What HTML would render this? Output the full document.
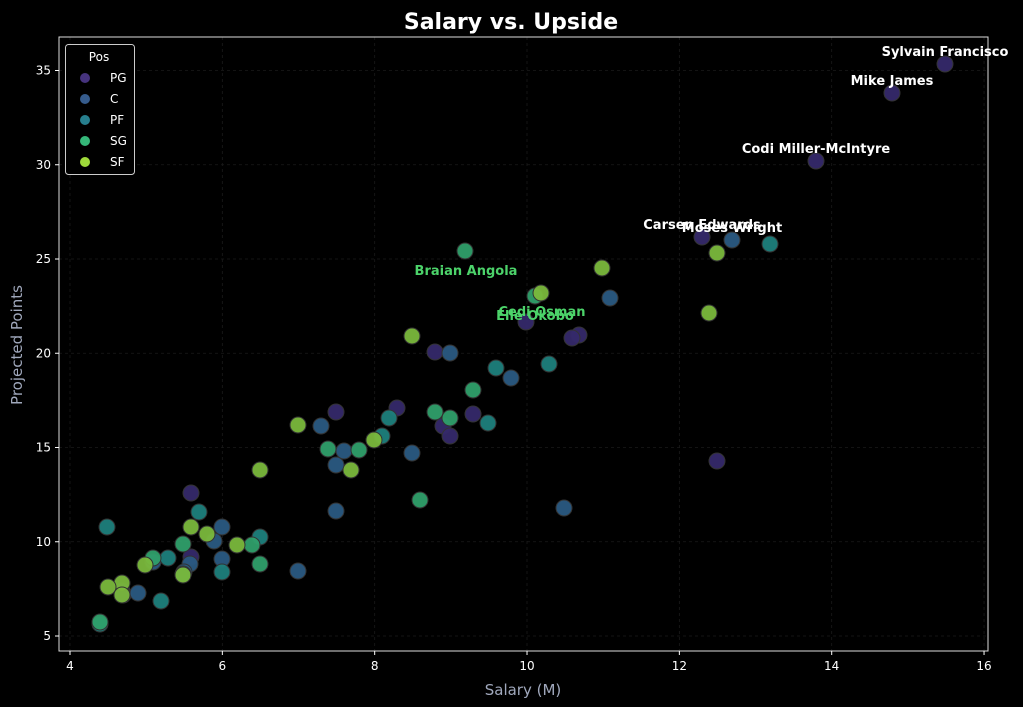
<!DOCTYPE html>
<html><head><meta charset="utf-8"><style>
body{margin:0;background:#000;}
svg{display:block;font-family:"DejaVu Sans","Liberation Sans",sans-serif;}
</style></head><body>
<svg id="s" width="1023" height="707" xmlns="http://www.w3.org/2000/svg">
<rect width="1023" height="707" fill="#000"/>
<g id="grid" stroke="#1a1a1a" stroke-width="0.8" stroke-dasharray="3,3"></g>
<g id="pts"></g>
<rect x="59" y="37" width="929" height="614" fill="none" stroke="#ddd" stroke-width="1"/>
<g id="ticks" fill="#fff" font-size="12"></g>
<text x="511" y="29" fill="#fff" font-size="22" font-weight="bold" text-anchor="middle">Salary vs. Upside</text>
<text x="523" y="695" fill="#a0a8bc" font-size="15" text-anchor="middle">Salary (M)</text>
<text x="22" y="345" fill="#a0a8bc" font-size="15" text-anchor="middle" transform="rotate(-90 22 345)">Projected Points</text>
<g font-size="13" font-weight="bold" text-anchor="middle">
<text x="945" y="56" fill="#fff">Sylvain Francisco</text>
<text x="892" y="85" fill="#fff">Mike James</text>
<text x="816" y="153" fill="#fff">Codi Miller-McIntyre</text>
<text x="702" y="229" fill="#fff">Carsen Edwards</text>
<text x="732" y="232" fill="#fff">Moses Wright</text>
<text x="466" y="275" fill="#4cd36a">Braian Angola</text>
<text x="542" y="316" fill="#4cd36a">Cedi Osman</text>
<text x="535" y="320" fill="#4cd36a">Elie Okobo</text>
</g>
<g>
<rect x="65.5" y="44.5" width="69" height="130" rx="3" fill="#000" stroke="#ccc" stroke-width="1"/>
<text x="99" y="61" fill="#fff" font-size="12" text-anchor="middle">Pos</text>
<g font-size="12" fill="#fff">
<circle cx="85" cy="78" r="5" fill="#46337e"/><text x="110" y="82">PG</text>
<circle cx="85" cy="99" r="5" fill="#365c8d"/><text x="110" y="103">C</text>
<circle cx="85" cy="120" r="5" fill="#277f8e"/><text x="110" y="124">PF</text>
<circle cx="85" cy="141" r="5" fill="#35b779"/><text x="110" y="145">SG</text>
<circle cx="85" cy="162" r="5" fill="#9fda3a"/><text x="110" y="166">SF</text>
</g></g>
</svg>
<script>
const ns="http://www.w3.org/2000/svg";
function el(p,t,a,txt){const e=document.createElementNS(ns,t);for(const k in a)e.setAttribute(k,a[k]);if(txt)e.textContent=txt;p.appendChild(e);return e;}
const g=document.getElementById('grid'),tk=document.getElementById('ticks'),pg=document.getElementById('pts');
for(let v=4;v<=16;v+=2){const x=70+(v-4)*76.17;el(g,'line',{x1:x,x2:x,y1:37,y2:651});el(tk,'line',{x1:x,x2:x,y1:651,y2:655,stroke:'#fff'});el(tk,'text',{x:x,y:670,'text-anchor':'middle'},v);}
for(let v=5;v<=35;v+=5){const y=636-(v-5)*18.85;el(g,'line',{x1:59,x2:988,y1:y,y2:y});el(tk,'line',{x1:55,x2:59,y1:y,y2:y,stroke:'#fff'});el(tk,'text',{x:51,y:y+4,'text-anchor':'end'},v);}
const D={
"#35296a":[[945,64],[892,93],[816,161],[702,237],[579,335],[572,338],[526,322],[435,352],[397,408],[336,412],[443,426],[450,436],[473,414],[717,461],[191,493],[191,557],[122,591],[123,595]],
"#2a5a82":[[732,240],[610,298],[450,353],[511,378],[321,426],[344,451],[336,465],[412,453],[336,511],[564,508],[298,571],[214,541],[222,527],[222,559],[153,562],[138,593],[190,564],[184,572]],
"#1e7f7c":[[770,244],[549,364],[496,368],[488,423],[382,436],[389,418],[199,512],[107,527],[260,537],[168,558],[222,572],[161,601],[100,624],[183,574]],
"#2f9f6a":[[465,251],[535,296],[473,390],[435,412],[450,418],[328,449],[359,450],[420,500],[260,564],[252,545],[153,558],[183,544],[100,622]],
"#7ab83c":[[602,268],[541,293],[717,253],[709,313],[412,336],[298,425],[374,440],[351,470],[260,470],[191,527],[207,534],[237,545],[145,565],[183,575],[122,583],[108,587],[122,595]]};
for(const c in D)for(const [x,y] of D[c])el(pg,'circle',{cx:x,cy:y,r:8,fill:c,stroke:'#333','stroke-width':1,'fill-opacity':0.95});
</script>
</body></html>
